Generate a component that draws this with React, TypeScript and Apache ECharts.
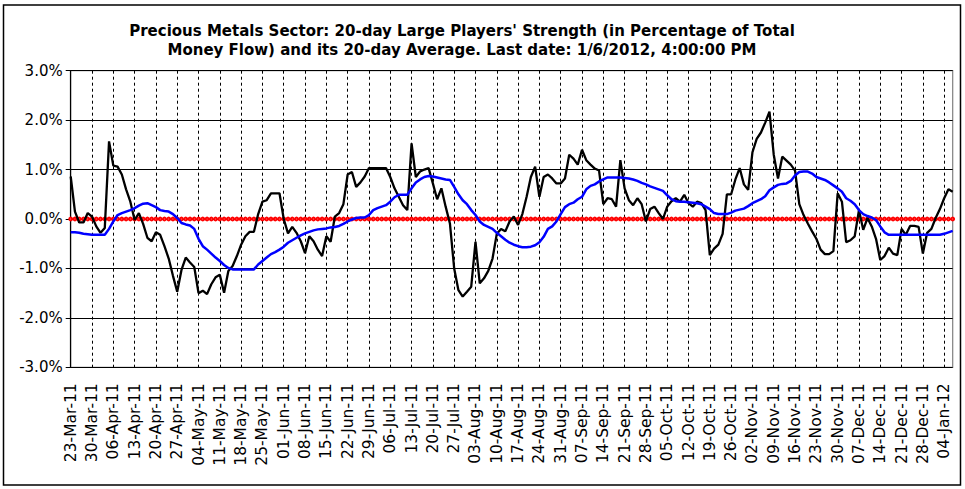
import React, { useEffect, useRef } from "react";
import * as echarts from "echarts";

// ---- categories: trading days (weekdays) from 23-Mar-11 to 06-Jan-12 ----
const MONTHS = ["Jan", "Feb", "Mar", "Apr", "May", "Jun", "Jul", "Aug", "Sep", "Oct", "Nov", "Dec"];
const FIRST_DAY = Date.UTC(2011, 2, 23);
const LAST_DAY = Date.UTC(2012, 0, 6);
const dates: string[] = [];
for (let t = FIRST_DAY; t <= LAST_DAY; t += 86400000) {
  const d = new Date(t);
  const wd = d.getUTCDay();
  if (wd === 0 || wd === 6) continue;
  const dd = String(d.getUTCDate()).padStart(2, "0");
  const yy = String(d.getUTCFullYear()).slice(2);
  dates.push(`${dd}-${MONTHS[d.getUTCMonth()]}-${yy}`);
}

// ---- 20-day Large Players' Strength (% of total money flow) ----
const strength = [
  0.86, 0.15, -0.07, -0.07, 0.12, 0.05, -0.15, -0.28, -0.18, 1.57,
  1.08, 1.06, 0.9, 0.6, 0.35, -0.02, 0.12, -0.1, -0.38, -0.45,
  -0.27, -0.32, -0.55, -0.8, -1.15, -1.47, -1.03, -0.78, -0.88, -0.97,
  -1.5, -1.45, -1.52, -1.32, -1.18, -1.13, -1.49, -1.05, -0.95, -0.75,
  -0.52, -0.35, -0.26, -0.26, 0.1, 0.35, 0.38, 0.52, 0.52, 0.52,
  0.0, -0.29, -0.16, -0.28, -0.45, -0.69, -0.35, -0.45, -0.62, -0.75,
  -0.35, -0.46, 0.05, 0.12, 0.3, 0.9, 0.95, 0.65, 0.74, 0.86,
  1.03, 1.03, 1.03, 1.03, 1.03, 0.85, 0.62, 0.45, 0.28, 0.18,
  1.53, 0.85, 0.96, 1.0, 1.03, 0.72, 0.4, 0.62, 0.25, -0.09,
  -1.0, -1.44, -1.57, -1.47, -1.37, -0.46, -1.3, -1.2, -1.05, -0.8,
  -0.3, -0.2, -0.25, -0.05, 0.05, -0.12, 0.1, 0.45, 0.85, 1.06,
  0.45, 0.85, 0.9, 0.82, 0.72, 0.72, 0.82, 1.3, 1.22, 1.1,
  1.4, 1.19, 1.1, 1.02, 0.98, 0.3, 0.42, 0.4, 0.25, 1.19,
  0.62, 0.38, 0.28, 0.42, 0.3, -0.05, 0.2, 0.25, 0.12, 0.0,
  0.25, 0.36, 0.42, 0.35, 0.49, 0.32, 0.25, 0.35, 0.32, 0.18,
  -0.73, -0.6, -0.52, -0.3, 0.5, 0.5, 0.8, 1.03, 0.7, 0.59,
  1.35, 1.62, 1.75, 1.95, 2.17, 1.3, 0.82, 1.26, 1.18, 1.1,
  0.98, 0.3, 0.08, -0.09, -0.25, -0.4, -0.62, -0.71, -0.71, -0.65,
  0.52, 0.35, -0.47, -0.43, -0.35, 0.18, -0.22, 0.02, -0.15, -0.4,
  -0.83, -0.75, -0.58, -0.7, -0.73, -0.2, -0.32, -0.14, -0.14, -0.16,
  -0.7, -0.28, -0.2, 0.02, 0.2, 0.42, 0.6, 0.55,
];

// ---- its 20-day average ----
const average20 = [
  -0.27, -0.27, -0.28, -0.3, -0.31, -0.32, -0.32, -0.32, -0.32, -0.2,
  -0.05, 0.08, 0.12, 0.15, 0.18, 0.22, 0.27, 0.31, 0.32, 0.28,
  0.24, 0.18, 0.16, 0.15, 0.1, 0.02, -0.08, -0.11, -0.13, -0.2,
  -0.4, -0.55, -0.62, -0.7, -0.78, -0.85, -0.93, -0.99, -1.02, -1.02,
  -1.02, -1.02, -1.02, -1.02, -0.92, -0.85, -0.78, -0.71, -0.67, -0.62,
  -0.56, -0.48, -0.43, -0.38, -0.33, -0.29, -0.26, -0.23, -0.21, -0.2,
  -0.19, -0.17, -0.16, -0.14, -0.1, -0.05, -0.01, 0.02, 0.03, 0.03,
  0.08, 0.18, 0.22, 0.25, 0.28, 0.35, 0.44, 0.49, 0.49, 0.49,
  0.62, 0.74, 0.8, 0.85, 0.87, 0.86, 0.84, 0.82, 0.8, 0.79,
  0.65, 0.5, 0.38, 0.3, 0.18, 0.08, -0.05, -0.12, -0.16, -0.2,
  -0.28, -0.35, -0.42, -0.48, -0.52, -0.55, -0.57, -0.57, -0.56, -0.53,
  -0.47, -0.36, -0.2, -0.15, -0.05, 0.1, 0.24, 0.3, 0.33, 0.4,
  0.45, 0.6, 0.67, 0.7, 0.76, 0.8, 0.84, 0.84, 0.84, 0.84,
  0.83, 0.82, 0.8, 0.77, 0.73, 0.7, 0.66, 0.63, 0.6, 0.57,
  0.48, 0.4, 0.36, 0.35, 0.35, 0.34, 0.33, 0.32, 0.3, 0.25,
  0.2, 0.12, 0.1, 0.1, 0.1, 0.13, 0.17, 0.19, 0.21, 0.26,
  0.32, 0.36, 0.4, 0.46, 0.58, 0.64, 0.69, 0.71, 0.72, 0.77,
  0.88, 0.95, 0.96, 0.96, 0.92, 0.85, 0.82, 0.79, 0.74, 0.68,
  0.62, 0.55, 0.42, 0.37, 0.3, 0.18, 0.1, 0.06, 0.03, -0.02,
  -0.15, -0.27, -0.32, -0.32, -0.32, -0.32, -0.32, -0.32, -0.32, -0.32,
  -0.32, -0.32, -0.32, -0.32, -0.32, -0.3, -0.27, -0.24,
];

// zero reference line (drawn as a red line with circle markers, as in the original)
const zeroLevel = 0;

const Y_MIN = -3;
const Y_MAX = 3;
const Y_STEP = 1;

const TITLE_LINE_1 = "Precious Metals Sector: 20-day Large Players' Strength (in Percentage of Total";
const TITLE_LINE_2 = "Money Flow) and its 20-day Average. Last date: 1/6/2012, 4:00:00 PM";

const FONT = "'DejaVu Sans', Verdana, sans-serif";

export default function App() {
  const ref = useRef<HTMLDivElement>(null);

  useEffect(() => {
    if (!ref.current) return;
    const chart = echarts.init(ref.current, undefined, { renderer: "svg" });
    const option: echarts.EChartsOption = {
      animation: false,
      backgroundColor: "#ffffff",
      grid: {
        left: 70.7,
        top: 70.7,
        right: 12.3,
        bottom: 121.7,
        show: true,
        borderColor: "#808080",
        borderWidth: 1.2,
        backgroundColor: "transparent",
      },
      graphic: [
        {
          type: "rect",
          silent: true,
          shape: { x: 3.5, y: 5, width: 957, height: 480 },
          style: { fill: "none", stroke: "#000", lineWidth: 1.5 },
        },
        {
          type: "text",
          silent: true,
          x: 462,
          y: 31,
          style: {
            text: TITLE_LINE_1,
            fontFamily: FONT,
            fontWeight: "bold",
            fontSize: 15,
            fill: "#000",
            textAlign: "center",
            textVerticalAlign: "middle",
          },
        },
        {
          type: "text",
          silent: true,
          x: 462,
          y: 49.5,
          style: {
            text: TITLE_LINE_2,
            fontFamily: FONT,
            fontWeight: "bold",
            fontSize: 15,
            fill: "#000",
            textAlign: "center",
            textVerticalAlign: "middle",
          },
        },
      ],
      xAxis: {
        type: "category",
        data: dates,
        boundaryGap: false,
        axisLine: { show: true, lineStyle: { color: "#000", width: 1.2 } },
        axisTick: { show: false },
        axisLabel: {
          interval: (i: number) => i % 5 === 0,
          rotate: 90,
          margin: 16,
          fontFamily: FONT,
          fontSize: 15.5,
          color: "#000",
        },
        splitLine: {
          show: true,
          interval: (i: number) => i % 5 === 0 && i > 0,
          lineStyle: { color: "#000", width: 1, type: [3, 3] },
        },
      },
      yAxis: {
        type: "value",
        min: Y_MIN,
        max: Y_MAX,
        interval: Y_STEP,
        axisLine: { show: true, lineStyle: { color: "#000", width: 1.2 } },
        axisTick: { show: true, length: 5, lineStyle: { color: "#000" } },
        axisLabel: {
          formatter: (v: number) => v.toFixed(1) + "%",
          fontFamily: FONT,
          fontSize: 15,
          color: "#000",
          margin: 8,
        },
        splitLine: { show: true, lineStyle: { color: "#000", width: 1 } },
      },
      series: [
        {
          name: "Zero",
          type: "line",
          data: dates.map(() => zeroLevel),
          symbol: "emptyCircle",
          symbolSize: 2.8,
          showAllSymbol: true,
          silent: true,
          lineStyle: { color: "#ff3030", width: 0.8 },
          itemStyle: { color: "#ff0000", borderColor: "#ff2020", borderWidth: 0.9 },
          z: 2,
        },
        {
          name: "Large Players' Strength",
          type: "line",
          data: strength,
          symbol: "none",
          lineStyle: { color: "#000000", width: 2.3 },
          z: 3,
        },
        {
          name: "20-day Average",
          type: "line",
          data: average20,
          symbol: "none",
          lineStyle: { color: "#0000ff", width: 2.5 },
          z: 4,
        },
      ],
    };
    chart.setOption(option);
    return () => {
      chart.dispose();
    };
  }, []);

  return (
    <div
      ref={ref}
      style={{ position: "absolute", left: 0, top: 0, width: 965, height: 489 }}
    />
  );
}
